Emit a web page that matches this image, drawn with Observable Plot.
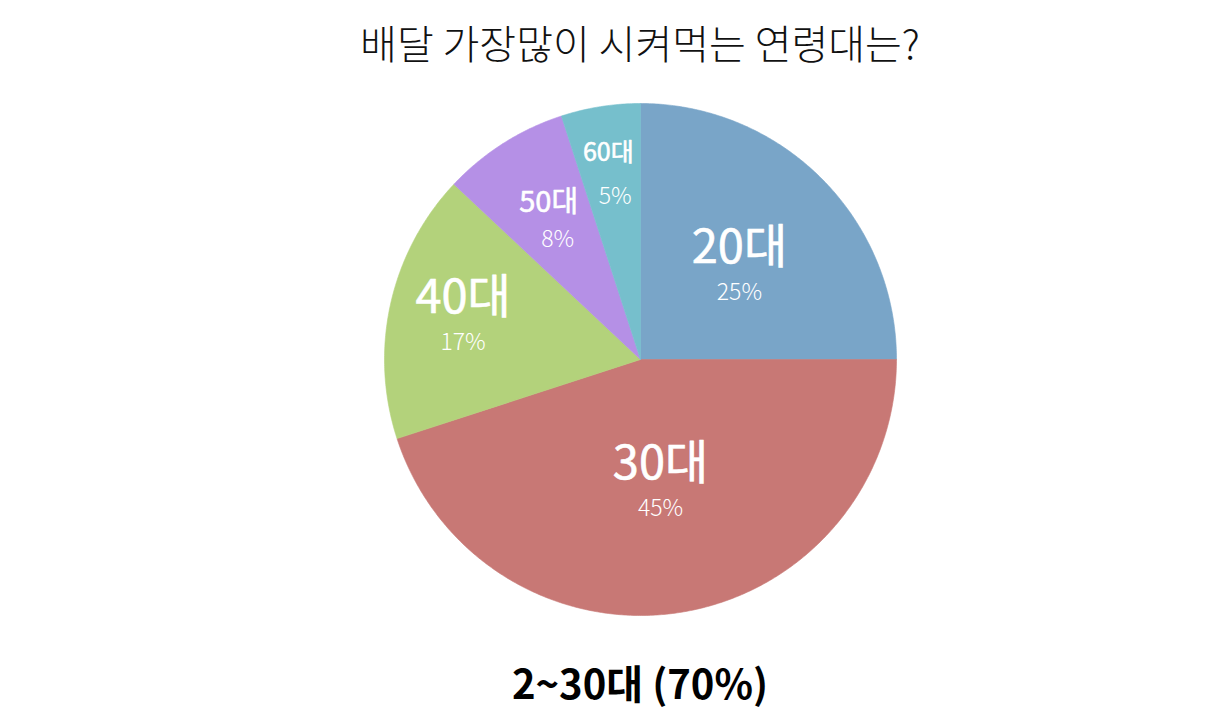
<!DOCTYPE html>
<html>
<head>
<meta charset="utf-8">
<script src="https://cdn.jsdelivr.net/npm/d3@7"></script>
<script src="https://cdn.jsdelivr.net/npm/@observablehq/plot@0.6"></script>
<style>
  html, body { margin: 0; padding: 0; background: #fff; overflow: hidden; }
  body { width: 1226px; height: 725px; font-family: "Noto Sans CJK KR", "Noto Sans", sans-serif; }
  #title { box-sizing: border-box; padding-left: 54px; height: 84px; line-height: 84px; text-align: center; font-size: 40px; font-weight: 300; color: #111; }
  #caption { box-sizing: border-box; padding-left: 54px; height: 76px; line-height: 76px; text-align: center; font-size: 40px; font-weight: 700; color: #000; }
  #chart svg { display: block; }
</style>
</head>
<body>
<div id="title"></div>
<div id="chart"></div>
<div id="caption"></div>
<script>
// ---- data ----
const titleText = "배달 가장많이 시켜먹는 연령대는?";
const captionText = "2~30대 (70%)";
const ages = ["20대", "30대", "40대", "50대", "60대"];
const shares = [25, 45, 17, 8, 5];
const colors = ["#79A5C8", "#C87875", "#B3D27B", "#B590E6", "#76BFCC"];

// ---- layout / style (not data) ----
const labelRadius = [0.52, 0.50, 0.71, 0.64, 0.73];
const labelAngleOffset = [3, 0, 0, 0, 0]; // degrees
const nameSize = [47, 47, 47, 29, 25];
const nameDy = [-22, -22, -22, -18, -22];
const pctDy = [22, 23, 23, 18, 22];
const nameDx = [0, 0, 0, -4, -3];
const pctDx = [0, 0, 0, 5, 4];

document.getElementById("title").textContent = titleText;
document.getElementById("caption").textContent = captionText;

const W = 1226, H = 560, R = 256, cx = 640, cy = 275;

const slices = ages.map((a, i) => ({ age: a, share: shares[i], color: colors[i], i }));
const arcs = d3.pie().value(d => d.share).sort(null)(slices);

// polygon outline for each slice (center + arc)
const pts = [];
for (const a of arcs) {
  const n = Math.max(8, Math.ceil((a.endAngle - a.startAngle) / (Math.PI / 180) * 2));
  pts.push({ age: a.data.age, x: 0, y: 0 });
  for (let k = 0; k <= n; k++) {
    const t = a.startAngle + (a.endAngle - a.startAngle) * k / n;
    pts.push({ age: a.data.age, x: Math.sin(t), y: Math.cos(t) });
  }
  pts.push({ age: a.data.age, x: 0, y: 0 });
}

const labels = arcs.map(a => {
  const i = a.data.i;
  const m = (a.startAngle + a.endAngle) / 2 + labelAngleOffset[i] * Math.PI / 180;
  return {
    age: a.data.age,
    pct: a.data.share + "%",
    x: labelRadius[i] * Math.sin(m),
    y: labelRadius[i] * Math.cos(m),
    i
  };
});

const marks = [
  Plot.line(pts, {
    x: "x", y: "y", z: "age",
    fill: "age", stroke: "age", strokeWidth: 0.6,
    curve: "linear"
  })
];
for (const l of labels) {
  const i = l.i;
  marks.push(Plot.text([l], {
    x: "x", y: "y", text: "age", dx: nameDx[i], dy: nameDy[i],
    fill: "white", stroke: "white", strokeWidth: 0.6,
    fontSize: nameSize[i], fontWeight: 400,
    fontFamily: "Noto Sans CJK KR"
  }));
  marks.push(Plot.text([l], {
    x: "x", y: "y", text: "pct", dx: pctDx[i], dy: pctDy[i],
    fill: "white", fontSize: 23, fontWeight: 300,
    fontFamily: "Noto Sans CJK KR"
  }));
}

const plot = Plot.plot({
  width: W,
  height: H,
  margin: 0,
  x: { domain: [-cx / R, (W - cx) / R], axis: null },
  y: { domain: [-(H - cy) / R, cy / R], axis: null },
  color: { domain: ages, range: colors },
  marks
});
document.getElementById("chart").appendChild(plot);
</script>
</body>
</html>
